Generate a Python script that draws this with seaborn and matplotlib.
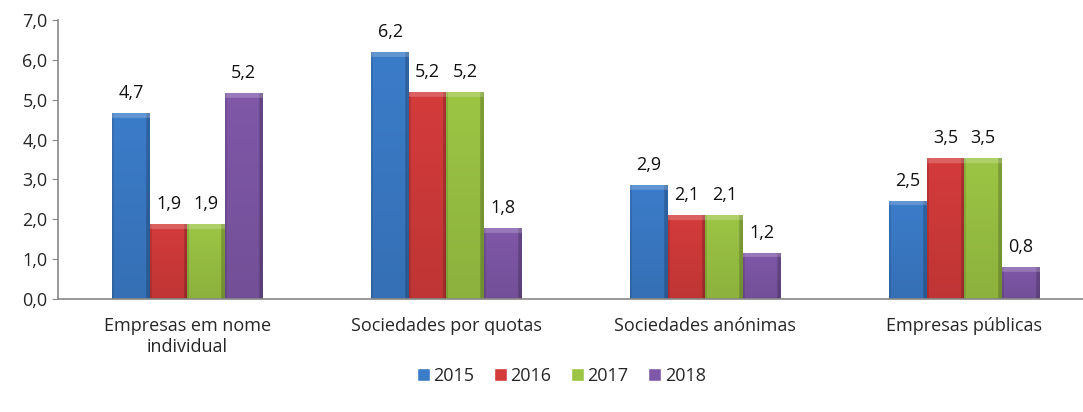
import pandas as pd
import numpy as np
import matplotlib.pyplot as plt
import matplotlib.colors as mcolors
import seaborn as sns

categorias = ["Empresas em nome\nindividual", "Sociedades por quotas",
              "Sociedades anónimas", "Empresas públicas"]
anos = ["2015", "2016", "2017", "2018"]
v2015 = [4.66, 6.19, 2.86, 2.46]
v2016 = [1.88, 5.19, 2.10, 3.53]
v2017 = [1.88, 5.19, 2.10, 3.53]
v2018 = [5.16, 1.78, 1.16, 0.80]

cores = ["#3b7cc9", "#d43b3b", "#9cc544", "#7f58a8"]

df = pd.DataFrame({
    "categoria": categorias * 4,
    "ano": np.repeat(anos, 4),
    "valor": v2015 + v2016 + v2017 + v2018,
})

sns.set_style("white")
plt.rcParams["font.family"] = ["Open Sans", "DejaVu Sans"]
fs = 13

fig = plt.figure(figsize=(10.83, 4.12), dpi=100)
ax = fig.add_axes([58 / 1083, 1 - 299 / 412, 1 - 58 / 1083, (299 - 20) / 412])

sns.barplot(data=df, x="categoria", y="valor", hue="ano", palette=cores,
            width=0.58, ax=ax, legend=True, saturation=1)


def sombra(patch, cor):
    # relevo tipo Excel: bordas um pouco escuras, topo claro
    x0, w, h = patch.get_x(), patch.get_width(), patch.get_height()
    rgb = np.array(mcolors.to_rgb(cor))
    nx, ny = 40, 300
    xs = np.linspace(0, 1, nx)
    ys = np.linspace(h, 0, ny)
    fx = np.ones(nx)
    fx[xs < 0.05] = 0.88
    fx[xs > 0.92] = 0.8
    fy = 0.9 + 0.1 * (ys / max(h, 1e-6))
    img = rgb[None, None, :] * (fy[:, None] * fx[None, :])[:, :, None]
    topo = ys > h - 0.12
    img[topo] = img[topo] * 0.8 + 0.2
    im = ax.imshow(np.clip(img, 0, 1), extent=[x0, x0 + w, 0, h], aspect="auto",
                   zorder=patch.get_zorder() + 0.1, interpolation="bilinear")
    im.set_clip_path(patch)


for i, cont in enumerate(ax.containers):
    for p in cont:
        p.set_edgecolor("none")
        sombra(p, cores[i])
    ax.bar_label(cont, labels=[f"{b.get_height():.1f}".replace(".", ",") for b in cont],
                 padding=8, fontsize=fs, color="#111111")

ax.set_ylim(0, 7)
ax.set_xlim(-0.5, 3.458)
ax.set_yticks(np.arange(0, 7.5, 1))
ax.set_yticklabels([f"{v:.1f}".replace(".", ",") for v in np.arange(0, 7.5, 1)], fontsize=fs)
ax.set_xticks(range(4))
ax.set_xticklabels(categorias, fontsize=fs)
ax.set_xticks([0.5, 1.5, 2.5], minor=True)
ax.tick_params(axis="x", which="major", length=0, pad=13)
ax.tick_params(axis="x", which="minor", length=6, color="#888888", direction="out")
ax.tick_params(axis="y", length=4.5, color="#888888", direction="out", left=True, pad=3)
ax.set_xlabel("")
ax.set_ylabel("")

for s in ["top", "right"]:
    ax.spines[s].set_visible(False)
for s in ["left", "bottom"]:
    ax.spines[s].set_color("#888888")
    ax.spines[s].set_linewidth(1.2)

handles, labels = ax.get_legend_handles_labels()
ax.legend(handles, labels, loc="center", bbox_to_anchor=(0.491, -0.275),
          ncol=4, frameon=False, fontsize=fs, handlelength=0.7, handleheight=0.7,
          handletextpad=0.2, columnspacing=1.1)

fig.savefig("out.png", dpi=100)
